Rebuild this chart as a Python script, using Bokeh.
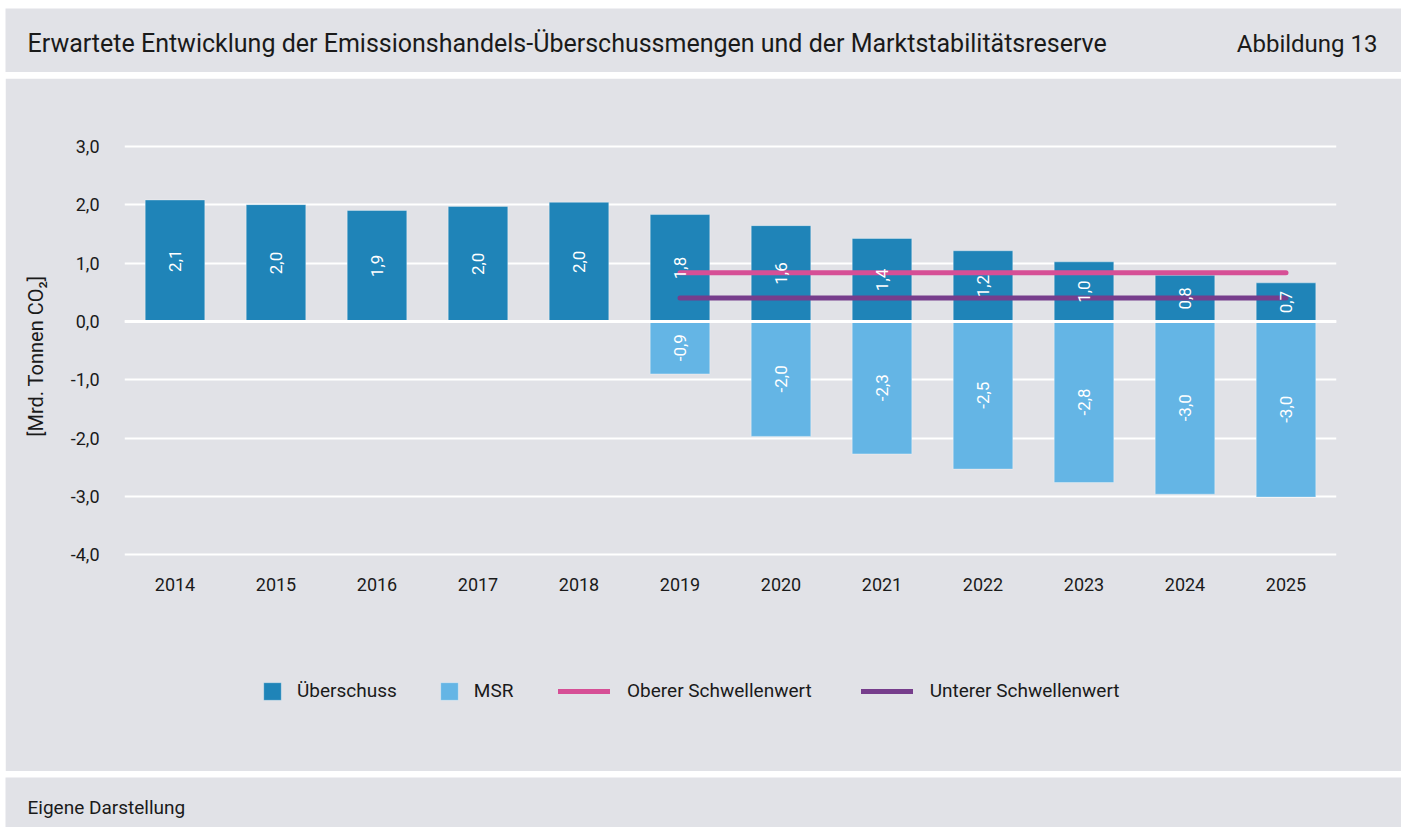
from bokeh.plotting import figure
from bokeh.layouts import column
from bokeh.models import (Label, Legend, LegendItem, Span, FixedTicker, Title,
                          CustomJSTickFormatter, ColumnDataSource, Range1d, FactorRange)
from bokeh.embed import file_html
from bokeh.resources import INLINE
from bokeh.core.properties import value

# ---------------- data ----------------
years = ["2014", "2015", "2016", "2017", "2018", "2019", "2020",
         "2021", "2022", "2023", "2024", "2025"]
ueberschuss = [2.08, 2.00, 1.90, 1.97, 2.04, 1.83, 1.64, 1.42, 1.21, 1.02, 0.79, 0.66]
msr = [None, None, None, None, None, -0.90, -1.97, -2.27, -2.53, -2.76, -2.96, -3.01]
threshold_years = ["2019", "2025"]
oberer = [0.833, 0.833]
unterer = [0.40, 0.40]
y_ticks = [-4, -3, -2, -1, 0, 1, 2, 3]

title_text = "Erwartete Entwicklung der Emissionshandels-Überschussmengen und der Marktstabilitätsreserve"
fig_no = "Abbildung 13"
source_text = "Eigene Darstellung"
y_label = "[Mrd. Tonnen CO\u2082]"
legend_labels = ["Überschuss", "MSR", "Oberer Schwellenwert", "Unterer Schwellenwert"]

# ---------------- style ----------------
BG = "#E1E2E7"
C_UE = "#1F84B8"
C_MSR = "#64B5E5"
C_OB = "#D64F96"
C_UN = "#763D8C"
TXT = "#1A1A1A"
FONT = "Roboto"
W = 1396
ML, MR = 119, 65


def fmt(v):
    return f"{v:.1f}".replace(".", ",")


def panel(height):
    f = figure(width=W, height=height, x_range=(0, 1), y_range=(0, 1),
               x_axis_type=None, y_axis_type=None, toolbar_location=None,
               output_backend="svg", min_border=0,
               background_fill_color=BG, border_fill_color=BG)
    f.frame_align = False
    f.outline_line_color = None
    f.grid.visible = False
    return f


# ---------------- header ----------------
head = panel(64)
head.add_layout(Label(x=22, y=29, x_units="screen", y_units="screen", text=title_text,
                      text_font=FONT, text_font_size="25px", text_color=TXT,
                      text_baseline="middle", text_align="left"))
head.add_layout(Label(x=1372, y=29, x_units="screen", y_units="screen",
                      text=fig_no, text_font=FONT, text_font_size="24px", text_color=TXT,
                      text_baseline="middle", text_align="right"))

# ---------------- main chart ----------------
p = figure(width=W, height=693, x_range=FactorRange(*years),
           y_range=Range1d(-7.71, 3.03), toolbar_location=None,
           output_backend="svg", background_fill_color=BG, border_fill_color=BG,
           min_border_left=ML, min_border_right=MR, min_border_top=66,
           min_border_bottom=0)
p.frame_align = False
p.outline_line_color = BG
p.outline_line_width = 2
p.xgrid.visible = False
p.ygrid.grid_line_color = "white"
p.ygrid.grid_line_width = 2
p.yaxis.ticker = FixedTicker(ticks=y_ticks)
p.yaxis.formatter = CustomJSTickFormatter(code="return tick.toFixed(1).replace('.', ',');")
p.xaxis.fixed_location = -4.0
for ax in (p.xaxis[0], p.yaxis[0]):
    ax.axis_line_color = None
    ax.major_tick_line_color = None
    ax.minor_tick_line_color = None
    ax.major_label_text_font = FONT
    ax.major_label_text_font_size = "18px"
    ax.major_label_text_color = TXT
p.yaxis.major_label_standoff = 19
p.xaxis.major_label_standoff = 17

# y-axis title, placed beside the value axis (upper part of the panel)
p.add_layout(Title(text=y_label, align="right", offset=131, vertical_align="top",
                   standoff=36, text_font=FONT, text_font_size="20px",
                   text_font_style="normal", text_color=TXT), "left")

src = ColumnDataSource(dict(year=years, ue=ueberschuss,
                            msr=[float("nan") if v is None else v for v in msr]))
r_ue = p.vbar(x="year", top="ue", bottom=0, width=0.59, source=src,
              fill_color=C_UE, line_color="#FFFFFF", line_alpha=0.35, line_width=1)
r_msr = p.vbar(x="year", top=0, bottom="msr", width=0.59, source=src,
               fill_color=C_MSR, line_color="#FFFFFF", line_alpha=0.35, line_width=1)

p.add_layout(Span(location=0, dimension="width", line_color="white", line_width=3))

r_ob = p.line(threshold_years, oberer, line_color=C_OB, line_width=5, line_cap="round")
r_un = p.line(threshold_years, unterer, line_color=C_UN, line_width=5, line_cap="round")

# value labels inside bars
lab_x, lab_y, lab_t = [], [], []
for y, v in zip(years, ueberschuss):
    lab_x.append(y); lab_y.append(v / 2); lab_t.append(fmt(v))
for y, v in zip(years, msr):
    if v is not None:
        lab_x.append(y); lab_y.append(v / 2); lab_t.append(fmt(v))
p.text(x=lab_x, y=lab_y, text=lab_t, angle=1.5708, text_align="center",
       text_baseline="middle", text_color="white", text_font=value(FONT),
       text_font_size="17px", text_font_style="normal")

leg1 = Legend(items=[LegendItem(label=legend_labels[0], renderers=[r_ue]),
                     LegendItem(label=legend_labels[1], renderers=[r_msr])],
              orientation="horizontal", location=(137, 69),
              glyph_width=22, glyph_height=22, label_height=22, label_standoff=14,
              spacing=41, padding=0, margin=0)
leg2 = Legend(items=[LegendItem(label=legend_labels[2], renderers=[r_ob]),
                     LegendItem(label=legend_labels[3], renderers=[r_un])],
              orientation="horizontal", location=(434, 69),
              glyph_width=52, glyph_height=22, label_height=22, label_standoff=17,
              spacing=49, padding=0, margin=0)
for lg in (leg1, leg2):
    lg.background_fill_alpha = 0
    lg.border_line_color = None
    lg.label_text_font = FONT
    lg.label_text_font_size = "19px"
    lg.label_text_color = TXT
    p.add_layout(lg, "center")

# ---------------- footer ----------------
foot = panel(50)
foot.add_layout(Label(x=22, y=20, x_units="screen", y_units="screen", text=source_text,
                      text_font=FONT, text_font_size="19px", text_color=TXT,
                      text_baseline="middle", text_align="left"))

layout = column(head, p, foot, spacing=6, margin=(8, 4, 0, 5))
open("out.html", "w").write(file_html(layout, INLINE))
